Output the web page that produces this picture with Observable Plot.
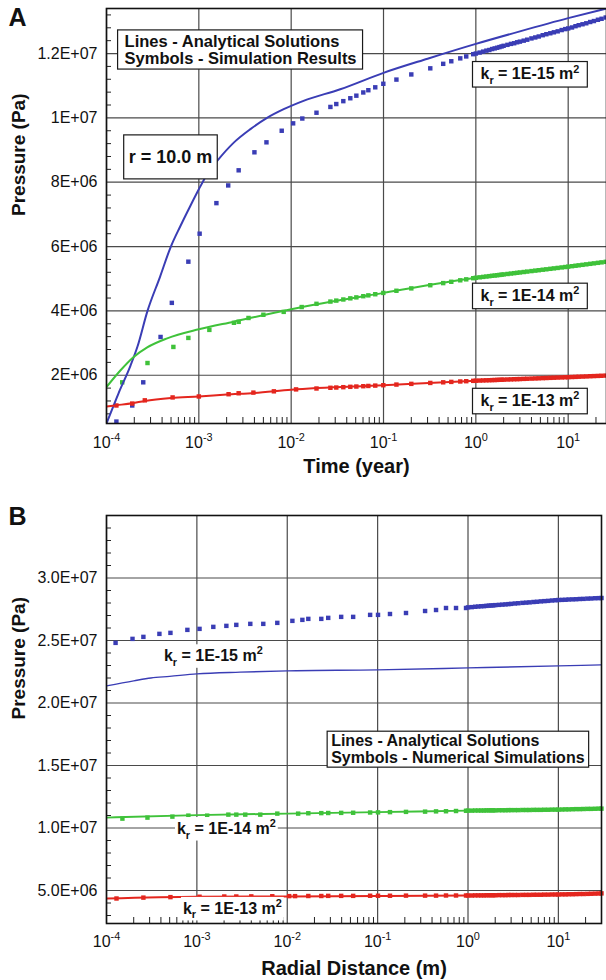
<!DOCTYPE html>
<html><head><meta charset="utf-8">
<script src="https://cdn.jsdelivr.net/npm/d3@7"></script>
<script src="https://cdn.jsdelivr.net/npm/@observablehq/plot@0.6"></script>
<style>
html,body{margin:0;padding:0;background:#fff;}
#chart{width:606px;}
#chart svg{display:block;}
</style></head><body><div id="chart"></div>
<script>
// ================= Panel A : pressure at r = 10 m versus time (year) =================
const timeAnalytic15A = [1e-4, 1.35e-4, 1.82e-4, 2.17e-4, 2.78e-4, 3.8e-4, 4.93e-4, 6.32e-4, 8.11e-4, 1e-3, 1.23e-3, 1.58e-3, 2.39e-3, 3.62e-3, 5.48e-3, 8.3e-3, 1.36e-2, 3.4e-2, 0.1, 0.3, 1, 3, 10, 26];
const presAnalytic15A = [0.50, 1.44, 2.30, 2.90, 4.00, 5.06, 5.97, 6.64, 7.27, 7.78, 8.25, 8.66, 9.23, 9.65, 10.00, 10.27, 10.53, 10.89, 11.40, 11.84, 12.30, 12.69, 13.10, 13.40];
const timeAnalytic14A = [1e-4, 1.42e-4, 1.94e-4, 2.76e-4, 4.54e-4, 1e-3, 2.39e-3, 1e-2, 0.1, 1, 10, 26];
const presAnalytic14A = [1.634, 2.156, 2.553, 2.866, 3.147, 3.428, 3.666, 4.053, 4.56, 5.03, 5.375, 5.53];
const timeAnalytic13A = [1e-4, 1.3e-4, 1.9e-4, 2.6e-4, 5e-4, 1e-3, 2e-3, 4e-3, 1e-2, 0.1, 1, 10, 26];
const presAnalytic13A = [1.03, 1.07, 1.13, 1.20, 1.29, 1.34, 1.40, 1.45, 1.55, 1.69, 1.83, 1.94, 1.99];

const timeSimEarly15A = [1.28e-4, 1.9e-4, 2.5e-4, 3.85e-4, 5.1e-4, 7.7e-4, 1.02e-3, 1.55e-3, 2.08e-3, 2.7e-3, 4.0e-3, 5.4e-3, 7.9e-3, 1.05e-2, 1.32e-2];
const presSimEarly15A = [0.56, 1.06, 1.78, 3.19, 4.25, 5.53, 6.40, 7.35, 7.90, 8.37, 8.93, 9.24, 9.60, 9.83, 9.98];
const timeSimEarly14A = [1.48e-4, 2.78e-4, 5.3e-4, 7.7e-4, 1.3e-3, 2.4e-3, 2.7e-3, 3.45e-3, 5.0e-3, 8.3e-3, 1.3e-2];
const presSimEarly14A = [1.78, 2.38, 2.88, 3.16, 3.41, 3.63, 3.66, 3.78, 3.88, 3.97, 4.12];
const timeSimEarly13A = [1.28e-4, 1.9e-4, 2.6e-4, 5.2e-4, 1.0e-3, 2.1e-3, 2.7e-3, 3.9e-3, 6.5e-3, 1.13e-2];
const presSimEarly13A = [1.06, 1.12, 1.22, 1.31, 1.34, 1.41, 1.44, 1.46, 1.50, 1.56];

const timeSimTailA = [0.0188, 0.0266, 0.0308, 0.0367, 0.0437, 0.0508, 0.0604, 0.0685, 0.0814, 0.0995, 0.138, 0.2, 0.321, 0.443, 0.542, 0.678, 0.787, 0.937,
  1.0, 1.1, 1.2, 1.3, 1.4, 1.5, 1.6, 1.7, 1.8, 1.9, 2.0, 2.2, 2.4, 2.6, 2.8, 3.0, 3.3, 3.6, 4.0, 4.4, 4.8, 5.3, 5.8, 6.4, 7.0, 7.7, 8.5, 9.3,
  10, 11, 12, 13, 14.3, 15.7, 17.3, 19, 21, 23, 25.5];
const presSimTail15A = [10.16, 10.34, 10.43, 10.52, 10.61, 10.69, 10.79, 10.86, 10.95, 11.06, 11.19, 11.35, 11.54, 11.68, 11.76, 11.85, 11.91, 11.98,
  12.00, 12.03, 12.06, 12.09, 12.11, 12.14, 12.16, 12.18, 12.20, 12.22, 12.24, 12.27, 12.30, 12.32, 12.35, 12.37, 12.40, 12.43, 12.47, 12.50, 12.53, 12.57, 12.60, 12.63, 12.66, 12.69, 12.73, 12.76,
  12.78, 12.81, 12.85, 12.88, 12.91, 12.94, 12.98, 13.01, 13.05, 13.08, 13.12];
const presSimTail14A = [4.22, 4.29, 4.32, 4.355, 4.39, 4.42, 4.457, 4.483, 4.518, 4.559, 4.626, 4.70, 4.798, 4.864, 4.905, 4.951, 4.981, 5.017,
  5.03, 5.044, 5.057, 5.069, 5.08, 5.091, 5.10, 5.109, 5.118, 5.126, 5.134, 5.148, 5.161, 5.173, 5.184, 5.195, 5.209, 5.222, 5.238, 5.252, 5.265, 5.28, 5.293, 5.308, 5.322, 5.336, 5.351, 5.364,
  5.375, 5.39, 5.404, 5.417, 5.432, 5.447, 5.463, 5.478, 5.494, 5.509, 5.525];
const presSimTail13A = [1.588, 1.61, 1.618, 1.629, 1.64, 1.649, 1.659, 1.667, 1.678, 1.69, 1.71, 1.732, 1.761, 1.78, 1.793, 1.806, 1.815, 1.826,
  1.83, 1.835, 1.839, 1.843, 1.846, 1.849, 1.852, 1.855, 1.858, 1.861, 1.863, 1.868, 1.872, 1.876, 1.879, 1.882, 1.887, 1.891, 1.896, 1.901, 1.905, 1.91, 1.914, 1.919, 1.923, 1.928, 1.932, 1.937,
  1.94, 1.945, 1.949, 1.954, 1.959, 1.963, 1.969, 1.974, 1.979, 1.984, 1.989];

const yTicksA = [2e6, 4e6, 6e6, 8e6, 1e7, 1.2e7];
const yTickLabelsA = ["2E+06", "4E+06", "6E+06", "8E+06", "1E+07", "1.2E+07"];
const xTicksA = [1e-4, 1e-3, 1e-2, 1e-1, 1, 10];
const xTickLabelsA = ["10^{-4}", "10^{-3}", "10^{-2}", "10^{-1}", "10^{0}", "10^{1}"];
const labelTextA = ["k_{r} = 1E-15 m^{2}", "k_{r} = 1E-14 m^{2}", "k_{r} = 1E-13 m^{2}"];
const labelTimeA = [3.85, 3.85, 3.85];
const labelPresA = [11.36, 4.47, 1.203];

// ================= Panel B : pressure versus radial distance (m) =================
const radAnalytic15B = [1e-4, 2e-4, 3.1e-4, 5e-4, 1e-3, 3e-3, 1e-2, 0.1, 1, 10, 30];
const presAnalytic15B = [21.37, 21.77, 22.00, 22.13, 22.33, 22.47, 22.57, 22.65, 22.81, 22.97, 23.05];
const radAnalytic14B = [1e-4, 1e-3, 1e-2, 0.1, 1, 10, 30];
const presAnalytic14B = [10.83, 11.03, 11.15, 11.27, 11.39, 11.47, 11.55];
const radAnalytic13B = [1e-4, 1e-3, 1e-2, 0.1, 1, 10, 30];
const presAnalytic13B = [4.36, 4.50, 4.53, 4.56, 4.60, 4.68, 4.76];

const radSimEarly15B = [1.26e-4, 1.94e-4, 2.56e-4, 3.85e-4, 5.1e-4, 7.85e-4, 1.07e-3, 1.52e-3, 2.12e-3, 2.73e-3, 3.9e-3, 5.43e-3, 7.76e-3, 1.14e-2, 1.47e-2];
const presSimEarly15B = [24.81, 25.13, 25.29, 25.53, 25.61, 25.85, 25.93, 26.09, 26.17, 26.25, 26.33, 26.33, 26.41, 26.57, 26.65];
const radSimEarly14B = [1.5e-4, 2.84e-4, 5.36e-4, 8.05e-4, 1.3e-3, 2.23e-3, 2.73e-3, 3.43e-3, 5.03e-3, 7.76e-3, 1.32e-2];
const presSimEarly14B = [10.75, 10.83, 10.91, 10.99, 10.99, 11.07, 11.07, 11.07, 11.07, 11.15, 11.15];
const radSimEarly13B = [1.29e-4, 2.56e-4, 5.1e-4, 1.07e-3, 2.01e-3, 2.73e-3, 4.0e-3, 6.83e-3, 1.05e-2, 1.22e-2];
const presSimEarly13B = [4.36, 4.43, 4.47, 4.50, 4.52, 4.52, 4.53, 4.54, 4.55, 4.55];

const radSimTailB = [0.0171, 0.0238, 0.0284, 0.0395, 0.0536, 0.0826, 0.101, 0.137, 0.206, 0.335, 0.443, 0.571, 0.737, 0.951,
  1.0, 1.1, 1.2, 1.3, 1.4, 1.5, 1.6, 1.7, 1.8, 1.9, 2.0, 2.2, 2.4, 2.6, 2.8, 3.0, 3.3, 3.6, 4.0, 4.4, 4.8, 5.3, 5.8, 6.4, 7.0, 7.7, 8.5, 9.3,
  10, 11, 12, 13, 14.3, 15.7, 17.3, 19, 21, 23, 25.5, 28, 30];
const presSimTail15B = [26.73, 26.73, 26.81, 26.89, 26.89, 27.05, 27.05, 27.12, 27.20, 27.36, 27.44, 27.60, 27.60, 27.60,
  27.65, 27.67, 27.70, 27.72, 27.74, 27.75, 27.77, 27.79, 27.80, 27.81, 27.83, 27.85, 27.87, 27.89, 27.91, 27.93, 27.96, 27.98, 28.01, 28.03, 28.05, 28.08, 28.10, 28.13, 28.15, 28.17, 28.20, 28.22,
  28.24, 28.25, 28.26, 28.28, 28.29, 28.30, 28.32, 28.33, 28.35, 28.36, 28.38, 28.39, 28.40];
const presSimTail14B = [11.18, 11.19, 11.20, 11.21, 11.22, 11.24, 11.25, 11.27, 11.29, 11.31, 11.33, 11.34, 11.36, 11.38,
  11.39, 11.39, 11.40, 11.40, 11.40, 11.40, 11.41, 11.41, 11.41, 11.41, 11.41, 11.42, 11.42, 11.42, 11.43, 11.43, 11.43, 11.43, 11.44, 11.44, 11.44, 11.45, 11.45, 11.45, 11.46, 11.46, 11.47, 11.47,
  11.47, 11.48, 11.49, 11.49, 11.50, 11.51, 11.51, 11.52, 11.53, 11.53, 11.54, 11.55, 11.55];
const presSimTail13B = [4.56, 4.56, 4.57, 4.57, 4.57, 4.58, 4.58, 4.58, 4.59, 4.59, 4.59, 4.60, 4.60, 4.60,
  4.60, 4.60, 4.61, 4.61, 4.61, 4.61, 4.62, 4.62, 4.62, 4.62, 4.62, 4.63, 4.63, 4.63, 4.64, 4.64, 4.64, 4.64, 4.65, 4.65, 4.65, 4.66, 4.66, 4.66, 4.67, 4.67, 4.68, 4.68,
  4.68, 4.69, 4.69, 4.70, 4.70, 4.71, 4.72, 4.72, 4.73, 4.74, 4.75, 4.76, 4.77];

const yTicksB = [5e6, 1e7, 1.5e7, 2e7, 2.5e7, 3e7];
const yTickLabelsB = ["5.0E+06", "1.0E+07", "1.5E+07", "2.0E+07", "2.5E+07", "3.0E+07"];
const xTicksB = [1e-4, 1e-3, 1e-2, 1e-1, 1, 10];
const xTickLabelsB = ["10^{-4}", "10^{-3}", "10^{-2}", "10^{-1}", "10^{0}", "10^{1}"];
const labelTextB = ["k_{r} = 1E-15 m^{2}", "k_{r} = 1E-14 m^{2}", "k_{r} = 1E-13 m^{2}"];
const labelRadB = [1.52e-3, 2.12e-3, 2.47e-3];
const labelPresB = [23.77, 9.95, 3.56];

// ================= rendering =================
const MPa = a => a.map(v => v * 1e6);
const BLUE = "#3a3db5", GREEN = "#3fc23a", RED = "#e4261e";
const FONT = "'Liberation Sans', Arial, Helvetica, sans-serif";

function minorX(lo, hi) {
  const out = [];
  for (let k = -4; k <= 1; k++) for (let m = 2; m <= 9; m++) { const v = m * Math.pow(10, k); if (v > lo && v < hi) out.push(v); }
  return out;
}
function minorY(lo, hi, step, major) {
  return d3.range(Math.ceil(lo / step) * step, hi, step).filter(v => Math.abs(v / major - Math.round(v / major)) > 1e-6);
}

function panel(o) {
  const plotH = o.height - o.marginTop - o.marginBottom;
  const plotW = 606 - o.marginLeft - o.marginRight;
  const yMap = new Map(o.yTicks.map((v, i) => [v, o.yTickLabels[i]]));
  const marks = [
    Plot.gridX(o.xTicks, {stroke: "#4a4a4a", strokeOpacity: 1, strokeWidth: 1.2}),
    Plot.gridY(o.yTicks, {stroke: "#4a4a4a", strokeOpacity: 1, strokeWidth: 1.2}),
    Plot.tickY(minorY(o.yDomain[0], o.yDomain[1], o.yMinorStep, o.yMajorStep), {y: d => d, insetRight: plotW - 5, stroke: "#222", strokeWidth: 1}),
    Plot.tickX(minorX(o.xDomain[0], o.xDomain[1]), {x: d => d, insetTop: plotH - 6, stroke: "#222", strokeWidth: 1}),
  ];
  for (const s of o.sims) marks.push(Plot.dot(s.t, {x: s.t, y: MPa(s.p), symbol: "square", r: 2.5, fill: s.color}));
  for (const s of o.lines) marks.push(Plot.line(s.t, {x: s.t, y: MPa(s.p), stroke: s.color, strokeWidth: s.w, curve: "monotone-x", clip: true}));
  marks.push(
    Plot.frame({stroke: "#111", strokeWidth: 1.6}),
    Plot.axisY(o.yTicks, {tickFormat: d => yMap.get(d), tickSize: 0, tickPadding: 9, fontSize: 16, label: null}),
    Plot.text(o.xTicks, {x: d => d, text: (d, i) => o.xTickLabels[i], frameAnchor: "bottom", dy: o.xTickDy, fontSize: 16, lineAnchor: "middle"}),
    Plot.text([o.xTitle], {text: d => d, frameAnchor: "bottom", dy: o.xTitleDy, fontSize: 20, fontWeight: "bold", lineAnchor: "middle"}),
    Plot.text(["Pressure (Pa)"], {text: d => d, frameAnchor: "left", dx: -88, rotate: -90, fontSize: 19, fontWeight: "bold", lineAnchor: "middle"}),
    Plot.text([o.letter], {text: d => d, frameAnchor: "top-left", dx: -98, dy: o.letterDy, fontSize: 25, fontWeight: "bold", textAnchor: "start", lineAnchor: "top"}),
    ...o.texts
  );
  return Plot.plot({
    width: 606, height: o.height,
    marginTop: o.marginTop, marginBottom: o.marginBottom, marginLeft: o.marginLeft, marginRight: o.marginRight,
    style: {fontFamily: FONT, background: "white", color: "#111", overflow: "visible"},
    x: {type: "log", domain: o.xDomain, axis: null},
    y: {domain: o.yDomain},
    marks
  });
}

const svgA = panel({
  height: 490, marginTop: 8, marginBottom: 67, marginLeft: 106, marginRight: 0,
  xDomain: [1e-4, 26], yDomain: [5e5, 1.34e7], yMinorStep: 4e5, yMajorStep: 2e6,
  yTicks: yTicksA, yTickLabels: yTickLabelsA, xTicks: xTicksA, xTickLabels: xTickLabelsA,
  xTickDy: 19, xTitle: "Time (year)", xTitleDy: 43, letter: "A", letterDy: 0,
  sims: [
    {t: [...timeSimEarly15A, ...timeSimTailA], p: [...presSimEarly15A, ...presSimTail15A], color: BLUE},
    {t: [...timeSimEarly14A, ...timeSimTailA], p: [...presSimEarly14A, ...presSimTail14A], color: GREEN},
    {t: [...timeSimEarly13A, ...timeSimTailA], p: [...presSimEarly13A, ...presSimTail13A], color: RED}
  ],
  lines: [
    {t: timeAnalytic15A, p: presAnalytic15A, color: BLUE, w: 2},
    {t: timeAnalytic14A, p: presAnalytic14A, color: GREEN, w: 2},
    {t: timeAnalytic13A, p: presAnalytic13A, color: RED, w: 2}
  ],
  texts: [
    Plot.text(["Lines - Analytical Solutions\nSymbols - Simulation Results"], {text: d => d, x: 1.57e-4, y: 1.211e7, textAnchor: "start", lineAnchor: "middle", lineHeight: 1.04, fontSize: 16.5, fontWeight: "bold"}),
    Plot.text(["r = 10.0 m"], {text: d => d, x: 4.93e-4, y: 8.78e6, lineAnchor: "middle", fontSize: 18, fontWeight: "bold"}),
    Plot.text(labelTextA, {text: labelTextA, x: labelTimeA, y: MPa(labelPresA), lineAnchor: "middle", fontSize: 16, fontWeight: "bold"})
  ]
});

const svgB = panel({
  height: 490, marginTop: 25, marginBottom: 57, marginLeft: 106, marginRight: 5,
  xDomain: [1e-4, 30], yDomain: [2.36e6, 3.5e7], yMinorStep: 1e6, yMajorStep: 5e6,
  yTicks: yTicksB, yTickLabels: yTickLabelsB, xTicks: xTicksB, xTickLabels: xTickLabelsB,
  xTickDy: 18, xTitle: "Radial Distance (m)", xTitleDy: 45, letter: "B", letterDy: -8,
  sims: [
    {t: [...radSimEarly15B, ...radSimTailB], p: [...presSimEarly15B, ...presSimTail15B], color: BLUE},
    {t: [...radSimEarly14B, ...radSimTailB], p: [...presSimEarly14B, ...presSimTail14B], color: GREEN},
    {t: [...radSimEarly13B, ...radSimTailB], p: [...presSimEarly13B, ...presSimTail13B], color: RED}
  ],
  lines: [
    {t: radAnalytic15B, p: presAnalytic15B, color: BLUE, w: 1.4},
    {t: radAnalytic14B, p: presAnalytic14B, color: GREEN, w: 2},
    {t: radAnalytic13B, p: presAnalytic13B, color: RED, w: 2}
  ],
  texts: [
    Plot.text(["Lines - Analytical Solutions\nSymbols - Numerical Simulations"], {text: d => d, x: 0.0306, y: 1.63e7, textAnchor: "start", lineAnchor: "middle", lineHeight: 1.06, fontSize: 16, fontWeight: "bold"}),
    Plot.text(labelTextB, {text: labelTextB, x: labelRadB, y: MPa(labelPresB), lineAnchor: "middle", fontSize: 16, fontWeight: "bold"})
  ]
});

const host = document.getElementById("chart");
host.appendChild(svgA);
host.appendChild(svgB);

const NS = "http://www.w3.org/2000/svg";
function richify(svg) {
  svg.querySelectorAll("text").forEach(t => {
    if (t.querySelector("tspan")) return;
    const s = t.textContent;
    if (!/[_^]\{/.test(s)) return;
    const fs = parseFloat(getComputedStyle(t).fontSize) || 16;
    while (t.firstChild) t.removeChild(t.firstChild);
    const re = /([_^])\{([^}]*)\}/g;
    let last = 0, m, shift = 0;
    const add = (txt, dy, small) => {
      const ts = document.createElementNS(NS, "tspan");
      ts.textContent = txt;
      if (Math.abs(dy) > 0.01) ts.setAttribute("dy", dy.toFixed(2));
      if (small) ts.setAttribute("font-size", (fs * 0.68).toFixed(2));
      t.appendChild(ts);
    };
    while ((m = re.exec(s))) {
      if (m.index > last) { add(s.slice(last, m.index), -shift, false); shift = 0; }
      const d = m[1] === "^" ? -0.42 * fs : 0.3 * fs;
      add(m[2], d - shift, true); shift = d;
      last = re.lastIndex;
    }
    if (last < s.length) add(s.slice(last), -shift, false);
  });
}
function boxify(svg, specs) {
  svg.querySelectorAll("text").forEach(t => {
    const s = t.textContent;
    const spec = specs.find(b => s.startsWith(b.key));
    if (!spec) return;
    const bb = t.getBBox();
    const [pt, pr, pb, pl] = spec.pad;
    const r = document.createElementNS(NS, "rect");
    r.setAttribute("x", bb.x - pl); r.setAttribute("y", bb.y - pt);
    r.setAttribute("width", bb.width + pl + pr); r.setAttribute("height", bb.height + pt + pb);
    r.setAttribute("fill", "#fff");
    r.setAttribute("stroke", spec.stroke ? "#1a1a1a" : "none");
    r.setAttribute("stroke-width", 1.2);
    const tr = t.getAttribute("transform"); if (tr) r.setAttribute("transform", tr);
    t.parentNode.insertBefore(r, t);
  });
}
richify(svgA); richify(svgB);
boxify(svgA, [
  {key: "Lines - Analytical", pad: [2, 6, 2, 7], stroke: true},
  {key: "r = 10.0", pad: [12, 5, 12, 5], stroke: true},
  {key: "kr =", pad: [1, 8, 1, 8], stroke: true}
]);
boxify(svgB, [
  {key: "Lines - Analytical", pad: [1, 4, 1, 4], stroke: true},
  {key: "kr =", pad: [0, 2, 0, 2], stroke: false}
]);
</script></body></html>
